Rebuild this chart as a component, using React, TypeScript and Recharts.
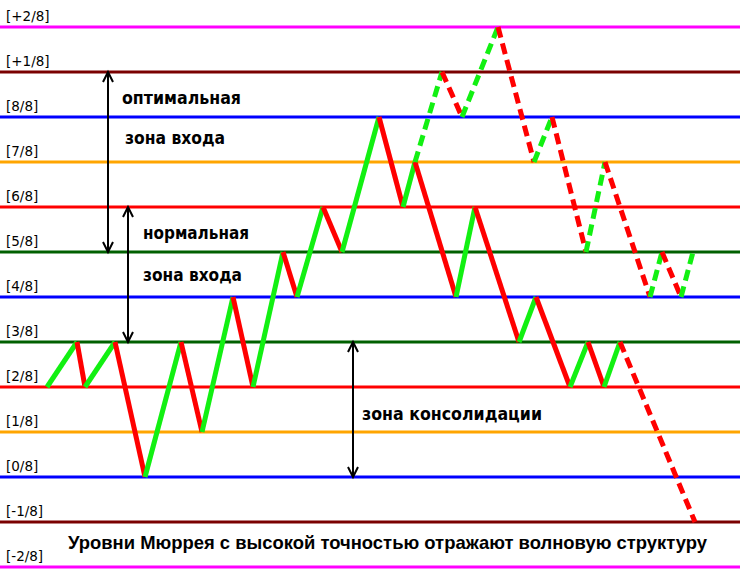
import { LineChart, Line, XAxis, YAxis, ReferenceLine } from 'recharts';

// Уровни Мюррея (в восьмых)
const levelValues = [10, 9, 8, 7, 6, 5, 4, 3, 2, 1, 0, -1, -2];
const levelNames = ['[+2/8]', '[+1/8]', '[8/8]', '[7/8]', '[6/8]', '[5/8]', '[4/8]', '[3/8]', '[2/8]', '[1/8]', '[0/8]', '[-1/8]', '[-2/8]'];
const levelColors = ['#ff00ff', '#7a0000', '#0000ff', '#ffa500', '#ff0000', '#006000', '#0000ff', '#006000', '#ff0000', '#ffa500', '#0000ff', '#7a0000', '#ff00ff'];

// основная волна (сплошная)
const mainTime = [47, 77, 85, 115, 145, 181, 202, 233, 253, 283, 297, 323, 342, 379, 403, 415, 456, 475, 519, 536, 570, 588, 604, 620];
const mainLevel = [2, 3, 2, 3, 0, 3, 1, 4, 2, 5, 4, 6, 5, 8, 6, 7, 4, 6, 3, 4, 2, 3, 2, 3];

// альтернативный сценарий вверх (пунктир)
const upTime = [415, 442, 462, 498, 534, 552, 586, 605, 650, 662, 681, 693];
const upLevel = [7, 9, 8, 10, 7, 8, 5, 7, 4, 5, 4, 5];

// сценарий вниз (пунктир)
const downTime = [620, 695];
const downLevel = [3, -1];

// стрелки зон
const arrowTime = [108, 128, 353];
const arrowFrom = [9, 6, 3];
const arrowTo = [5, 3, 0];

const GREEN = '#12f012';
const RED = '#ff0000';
const FONT = '"DejaVu Sans", sans-serif';
const CAPTION_FONT = '"Liberation Sans", Arial, sans-serif';

type Seg = { key: string; data: { t: number; v: number }[]; up: boolean; dashed: boolean };

function toSegments(name: string, t: number[], v: number[], dashed: boolean): Seg[] {
  const out: Seg[] = [];
  for (let i = 1; i < t.length; i++) {
    out.push({
      key: `${name}-${i}`,
      data: [{ t: t[i - 1], v: v[i - 1] }, { t: t[i], v: v[i] }],
      up: v[i] > v[i - 1],
      dashed,
    });
  }
  return out;
}

const segments = [
  ...toSegments('main', mainTime, mainLevel, false),
  ...toSegments('up', upTime, upLevel, true),
  ...toSegments('down', downTime, downLevel, true),
];

const ArrowShape = (props: any) => {
  const { x1, y1, x2, y2 } = props;
  const len = Math.hypot(x2 - x1, y2 - y1) || 1;
  const ux = (x2 - x1) / len;
  const uy = (y2 - y1) / len;
  const nx = -uy;
  const ny = ux;
  const h = 10;
  const w = 5;
  const d1 = `M${x1 + ux * h + nx * w},${y1 + uy * h + ny * w} L${x1},${y1} L${x1 + ux * h - nx * w},${y1 + uy * h - ny * w}`;
  const d2 = `M${x2 - ux * h + nx * w},${y2 - uy * h + ny * w} L${x2},${y2} L${x2 - ux * h - nx * w},${y2 - uy * h - ny * w}`;
  return (
    <g stroke="#000" strokeWidth={2} fill="none">
      <line x1={x1} y1={y1} x2={x2} y2={y2} />
      <path d={d1} />
      <path d={d2} />
    </g>
  );
};

const texts = [
  { s: 'оптимальная', x: 122, y: 104, len: 119, size: 18, font: FONT },
  { s: 'зона входа', x: 125, y: 144, len: 100, size: 18, font: FONT },
  { s: 'нормальная', x: 143, y: 239, len: 106, size: 18, font: FONT },
  { s: 'зона входа', x: 143, y: 281, len: 99, size: 18, font: FONT },
  { s: 'зона консолидации', x: 362, y: 420, len: 180, size: 18, font: FONT },
  { s: 'Уровни Мюррея с высокой точностью отражают волновую структуру', x: 68, y: 549, len: 639, size: 18.5, font: CAPTION_FONT },
];

export default function App() {
  return (
    <div style={{ position: 'absolute', left: 0, top: 0, width: 740, height: 588, background: '#fff' }}>
      <LineChart width={740} height={588} margin={{ top: 0, right: 0, bottom: 0, left: 0 }}>
        <XAxis type="number" dataKey="t" domain={[0, 740]} hide allowDataOverflow />
        <YAxis type="number" domain={[-2 - 21 / 45, 10 + 27 / 45]} hide allowDataOverflow />
        {levelValues.map((lv, i) => (
          <ReferenceLine
            key={`lvl-${lv}`}
            y={lv}
            stroke={levelColors[i]}
            strokeWidth={3}
            label={{
              value: levelNames[i],
              position: 'insideBottomLeft',
              offset: 6,
              fill: '#000',
              fontSize: 13.5,
              fontFamily: FONT,
            }}
          />
        ))}
        {arrowTime.map((t, i) => (
          <ReferenceLine
            key={`arrow-${i}`}
            segment={[{ x: t, y: arrowFrom[i] }, { x: t, y: arrowTo[i] }]}
            shape={ArrowShape}
          />
        ))}
        {segments.map((s) => (
          <Line
            key={s.key}
            data={s.data}
            dataKey="v"
            type="linear"
            stroke={s.up ? GREEN : RED}
            strokeWidth={5}
            strokeDasharray={s.dashed ? '11 6' : undefined}
            dot={false}
            activeDot={false}
            isAnimationActive={false}
          />
        ))}
      </LineChart>
      <svg width={740} height={588} style={{ position: 'absolute', left: 0, top: 0, pointerEvents: 'none' }}>
        {texts.map((t, i) => (
          <text
            key={i}
            x={t.x}
            y={t.y}
            textLength={t.len}
            lengthAdjust="spacingAndGlyphs"
            fontFamily={t.font}
            fontWeight="bold"
            fontSize={t.size}
            fill="#000"
          >
            {t.s}
          </text>
        ))}
      </svg>
    </div>
  );
}
